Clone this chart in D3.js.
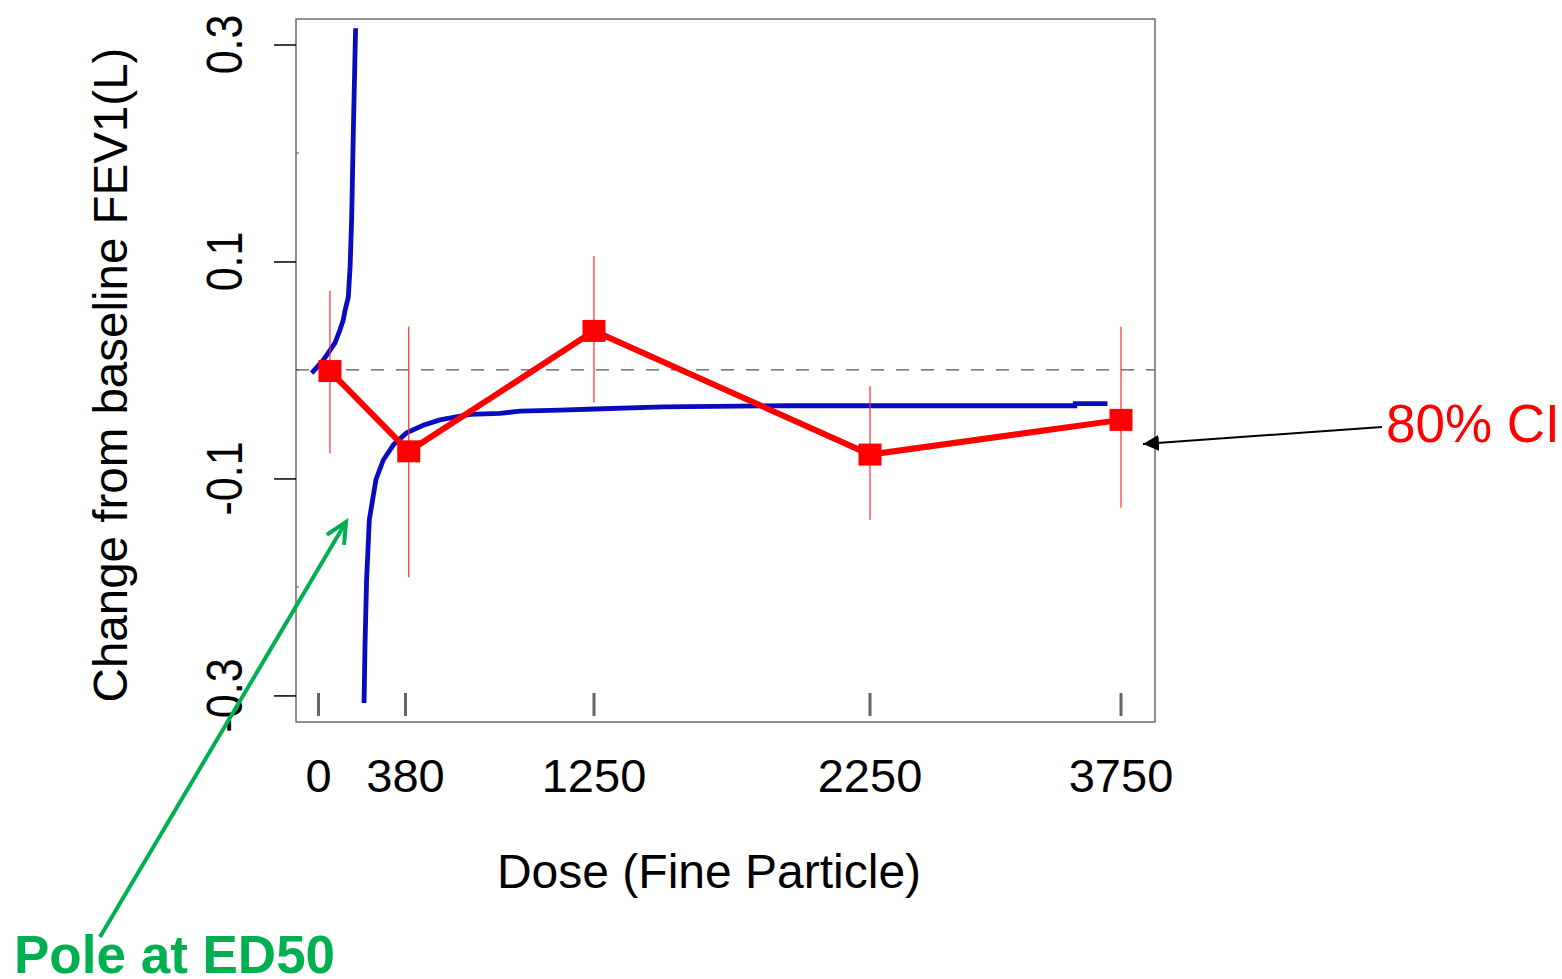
<!DOCTYPE html>
<html>
<head>
<meta charset="utf-8">
<script src="https://cdn.jsdelivr.net/npm/d3@7"></script>
<style>
  body { margin: 0; background: #fff; }
  text { font-family: "Liberation Sans", Arial, sans-serif; }
</style>
</head>
<body>
<div id="chart"></div>
<script>
// Dose axis ticks
const doseTicks = [0, 380, 1250, 2250, 3750];
const yTicks = [-0.3, -0.1, 0.1, 0.3];
const yMinor = [-0.2, 0, 0.2];

// Observed means with 80% CI (red)
const obsDose = [50, 395, 1250, 2250, 3750];
const obsMean = [-0.001, -0.075, 0.036, -0.078, -0.046];
const ciLow = [-0.077, -0.191, -0.030, -0.138, -0.127];
const ciHigh = [0.073, 0.040, 0.105, -0.015, 0.040];

// Fitted Emax curve (blue), two branches around the pole
const leftDose = [-30, 21, 50, 72, 94, 108, 116, 130, 138, 145, 152, 162];
const leftFit = [-0.003, 0.009, 0.018, 0.025, 0.037, 0.046, 0.055, 0.067, 0.095, 0.141, 0.218, 0.315];
const rightDose = [199, 203, 210, 222, 251, 283, 327, 385, 462, 539, 678, 816, 908, 1093, 1254, 1500, 1942, 3475, 3476, 3669];
const rightFit = [-0.307, -0.255, -0.194, -0.138, -0.101, -0.083, -0.069, -0.058, -0.051, -0.046, -0.041, -0.040, -0.038, -0.037, -0.036, -0.034, -0.033, -0.033, -0.031, -0.031];

const svgWidth = 1562;
const svgHeight = 979;
const box = { left: 296, right: 1155, top: 19, bottom: 722 };

const svg = d3.select('#chart')
    .append('svg')
    .attr('width', svgWidth)
    .attr('height', svgHeight);

svg.append('rect')
    .attr('width', svgWidth)
    .attr('height', svgHeight)
    .attr('fill', '#fff');

// x axis is piecewise so the doses sit at the plotted positions
const xScale = d3.scaleLinear()
    .domain(doseTicks)
    .range([318.5, 405.5, 594, 870, 1121]);

const yScale = d3.scaleLinear()
    .domain([-0.3245, 0.3235])
    .range([box.bottom, box.top]);

// plot frame
svg.append('rect')
    .attr('x', box.left)
    .attr('y', box.top)
    .attr('width', box.right - box.left)
    .attr('height', box.bottom - box.top)
    .attr('fill', 'none')
    .attr('stroke', '#555')
    .attr('stroke-width', 1.3);

// y axis ticks (outside) and minor ticks (inside)
const yAxis = d3.axisLeft(yScale)
    .tickValues(yTicks)
    .tickSize(22)
    .tickFormat('');
const yAxisG = svg.append('g')
    .attr('transform', `translate(${box.left}, 0)`)
    .call(yAxis);
yAxisG.select('.domain').remove();
yAxisG.selectAll('line').attr('stroke', '#000').attr('stroke-width', 1.5);

svg.selectAll('.minor')
    .data(yMinor)
    .enter()
    .append('line')
    .attr('x1', box.left)
    .attr('x2', box.left + 3)
    .attr('y1', d => yScale(d))
    .attr('y2', d => yScale(d))
    .attr('stroke', '#555')
    .attr('stroke-width', 1);

// rotated y tick labels (plain hyphen for negatives)
svg.selectAll('.ylab')
    .data(yTicks)
    .enter()
    .append('text')
    .attr('transform', d => `translate(242, ${yScale(d)}) rotate(-90) scale(1, 1.18)`)
    .attr('text-anchor', 'middle')
    .attr('font-size', 43)
    .attr('fill', '#000')
    .text(d => d.toFixed(1));

// y title
svg.append('text')
    .attr('transform', 'translate(127, 375) rotate(-90)')
    .attr('text-anchor', 'middle')
    .attr('font-size', 47.5)
    .text('Change from baseline FEV1(L)');

// dose tick marks inside the frame
svg.selectAll('.xtick')
    .data(doseTicks)
    .enter()
    .append('line')
    .attr('x1', d => xScale(d))
    .attr('x2', d => xScale(d))
    .attr('y1', 693)
    .attr('y2', 716)
    .attr('stroke', '#666')
    .attr('stroke-width', 3);

svg.selectAll('.xlab')
    .data(doseTicks)
    .enter()
    .append('text')
    .attr('x', d => xScale(d))
    .attr('y', 792)
    .attr('text-anchor', 'middle')
    .attr('font-size', 47)
    .text(d => d);

svg.append('text')
    .attr('x', 709)
    .attr('y', 888)
    .attr('text-anchor', 'middle')
    .attr('font-size', 48)
    .text('Dose (Fine Particle)');

// zero reference
svg.append('line')
    .attr('x1', box.left)
    .attr('x2', box.right)
    .attr('y1', yScale(0))
    .attr('y2', yScale(0))
    .attr('stroke', '#555')
    .attr('stroke-width', 1.3)
    .attr('stroke-dasharray', '13,12');

// fitted curve
const line = d3.line()
    .x(d => xScale(d[0]))
    .y(d => yScale(d[1]));

[[leftDose, leftFit], [rightDose, rightFit]].forEach(([xs, ys]) => {
    svg.append('path')
        .datum(xs.map((x, i) => [x, ys[i]]))
        .attr('d', line)
        .attr('fill', 'none')
        .attr('stroke', '#0a0abf')
        .attr('stroke-width', 4.8);
});

// CI bars
const obs = obsDose.map((d, i) => ({ dose: d, mean: obsMean[i], lo: ciLow[i], hi: ciHigh[i] }));

svg.selectAll('.ci')
    .data(obs)
    .enter()
    .append('line')
    .attr('x1', d => xScale(d.dose))
    .attr('x2', d => xScale(d.dose))
    .attr('y1', d => yScale(d.hi))
    .attr('y2', d => yScale(d.lo))
    .attr('stroke', '#ff2a2a')
    .attr('stroke-width', 1.2);

svg.append('path')
    .datum(obs)
    .attr('d', d3.line().x(d => xScale(d.dose)).y(d => yScale(d.mean)))
    .attr('fill', 'none')
    .attr('stroke', '#ff0000')
    .attr('stroke-width', 6);

svg.selectAll('.pt')
    .data(obs)
    .enter()
    .append('rect')
    .attr('x', d => xScale(d.dose) - 11.5)
    .attr('y', d => yScale(d.mean) - 11)
    .attr('width', 23)
    .attr('height', 22)
    .attr('fill', '#ff0000');

// annotations
const defs = svg.append('defs');
defs.append('marker')
    .attr('id', 'blackHead')
    .attr('viewBox', '0 0 16 16')
    .attr('refX', 16)
    .attr('refY', 8)
    .attr('markerWidth', 16)
    .attr('markerHeight', 16)
    .attr('markerUnits', 'userSpaceOnUse')
    .attr('orient', 'auto')
    .append('path')
    .attr('d', 'M0,0 L16,8 L0,16 Z')
    .attr('fill', '#000');

svg.append('line')
    .attr('x1', 1382)
    .attr('y1', 427)
    .attr('x2', 1143)
    .attr('y2', 444)
    .attr('stroke', '#000')
    .attr('stroke-width', 2)
    .attr('marker-end', 'url(#blackHead)');

svg.append('text')
    .attr('x', 1386)
    .attr('y', 442)
    .attr('font-size', 53)
    .attr('fill', '#ff0000')
    .text('80% CI');

const green = '#00b050';
const tail = [100, 937];
const tip = [346, 522];
const ang = Math.atan2(tip[1] - tail[1], tip[0] - tail[0]);
const arm = 23;
svg.append('line')
    .attr('x1', tail[0]).attr('y1', tail[1])
    .attr('x2', tip[0]).attr('y2', tip[1])
    .attr('stroke', green)
    .attr('stroke-width', 4);
svg.append('path')
    .attr('d', `M${tip[0] + arm * Math.cos(ang + Math.PI - 0.45)},${tip[1] + arm * Math.sin(ang + Math.PI - 0.45)}
                L${tip[0]},${tip[1]}
                L${tip[0] + arm * Math.cos(ang + Math.PI + 0.45)},${tip[1] + arm * Math.sin(ang + Math.PI + 0.45)}`)
    .attr('fill', 'none')
    .attr('stroke', green)
    .attr('stroke-width', 4);

svg.append('text')
    .attr('x', 14)
    .attr('y', 973)
    .attr('font-size', 53)
    .attr('font-weight', 'bold')
    .attr('fill', green)
    .text('Pole at ED50');
</script>
</body>
</html>
